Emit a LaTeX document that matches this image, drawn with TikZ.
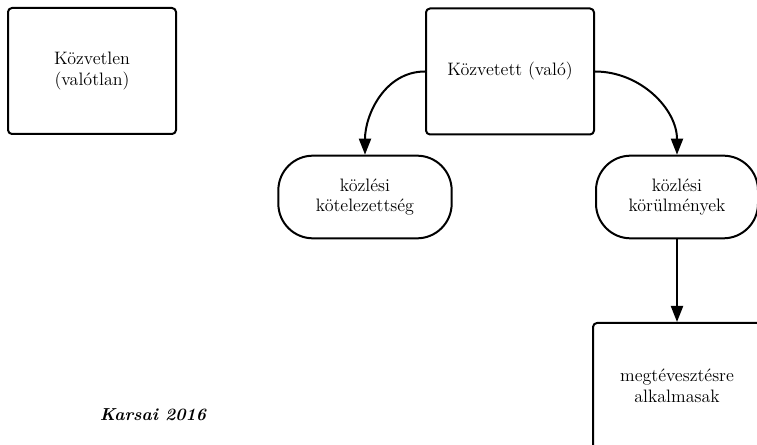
\documentclass[tikz,border=0pt]{standalone}
\usetikzlibrary{arrows.meta}
\begin{document}
\begin{tikzpicture}[x=0.75pt,y=-0.75pt,font=\fontsize{13.5}{15.5}\selectfont,line join=round,line cap=round,
	>={Triangle[length=12pt,width=9pt]},line width=1.5pt,
	doboz/.style={draw,rounded corners=3pt,minimum width=126pt,minimum height=94.5pt,align=center},
	kapszula/.style={draw,rounded corners=26pt,minimum width=130pt,minimum height=62pt,align=center}]
			\useasboundingbox (0,0) rectangle (757,445);
			% dobozok
			\node[doboz] (kozvetlen) at (92,71) {Közvetlen\\(valótlan)};
			\node[doboz] (kozvetett) at (510,71.5) {Közvetett (való)};
			\node[kapszula] (kotelezettseg) at (365,197) {közlési\\kötelezettség};
			\node[kapszula,minimum width=121.5pt] (korulmenyek) at (677,197) {közlési\\körülmények};
			\node[doboz] (alkalmas) at (677,386) {megtévesztésre\\alkalmasak};
			% nyilak
			\draw[->] (kozvetett.west) to[out=180,in=90] (kotelezettseg.north);
			\draw[->] (kozvetett.east) to[out=0,in=90] (korulmenyek.north);
			\draw[->] (korulmenyek)--(alkalmas);
			\node[font=\fontsize{13}{15}\selectfont\bfseries\itshape] (forras) at (153,415) {Karsai 2016};
	\end{tikzpicture}
\end{document}
